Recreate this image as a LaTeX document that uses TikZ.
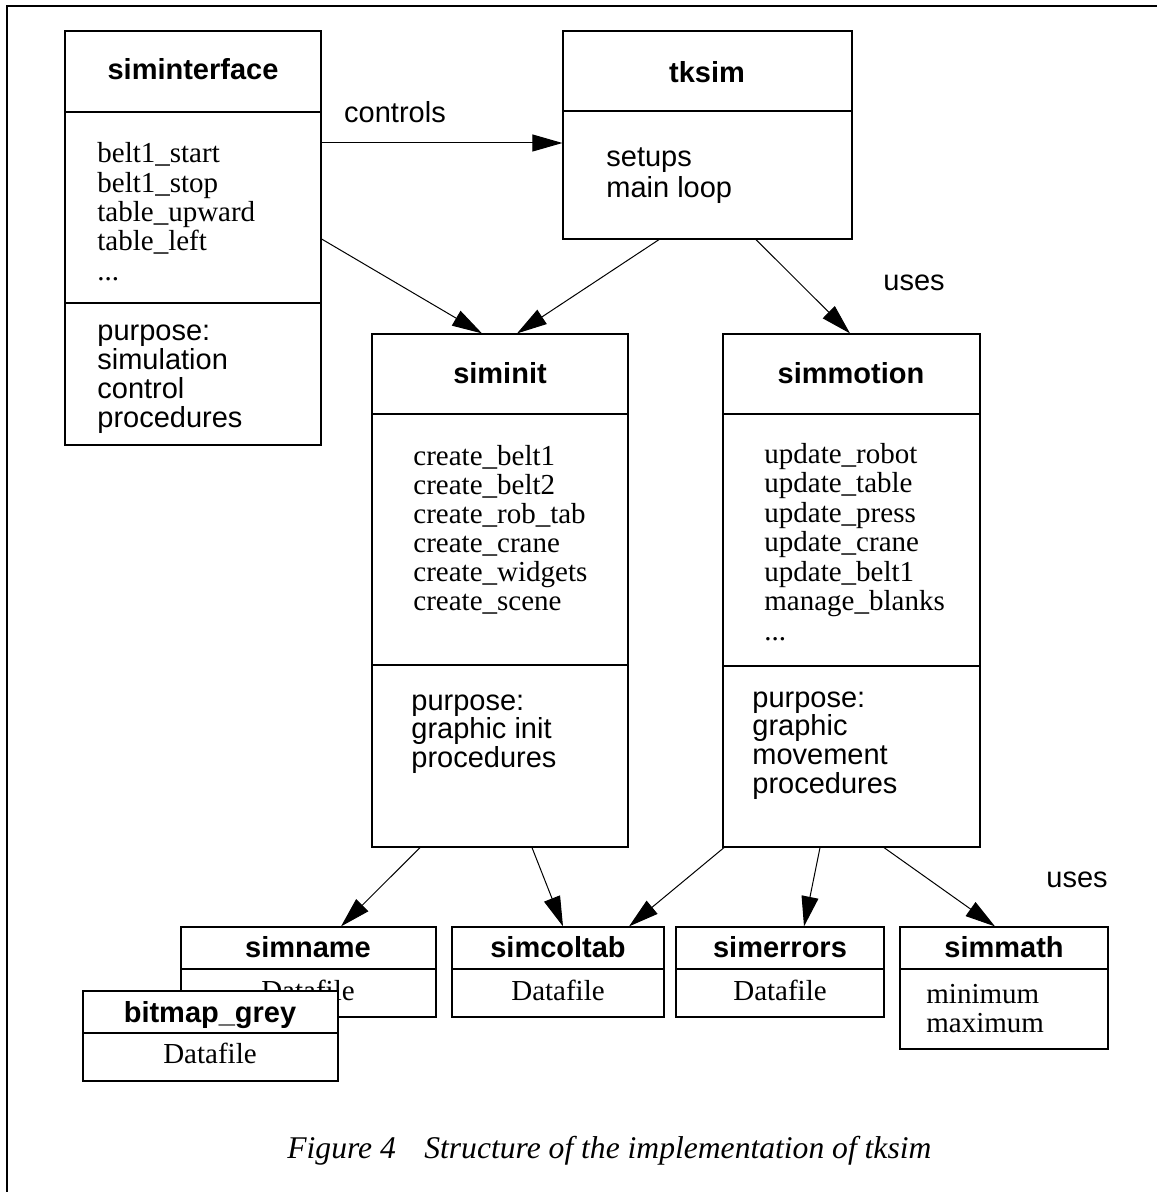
\documentclass[tikz,border=0pt]{standalone}
\usepackage{fontspec}
\setmainfont{Liberation Serif}
\setsansfont{Liberation Sans}
\usetikzlibrary{arrows.meta, calc, fit, positioning}

\newcommand{\moreops}{...}

\tikzset{
  box/.style={draw, line width=0.6pt, fill=white, inner sep=0pt},
  rule/.style={line width=0.6pt},
  title/.style={font=\sffamily\bfseries\fontsize{14.5}{15}\selectfont, anchor=base, inner sep=0pt},
  sans/.style={font=\sffamily\fontsize{14.5}{15}\selectfont, anchor=base west, inner sep=0pt},
  serif/.style={font=\rmfamily\fontsize{14.5}{15}\selectfont, anchor=base west, inner sep=0pt},
  link/.style={-{Triangle[length=15pt, width=8.5pt]}, line width=0.5pt},
}

\begin{document}
\begin{tikzpicture}[x=0.5pt, y=-0.5pt]
\useasboundingbox (0,0) rectangle (1157,1192);
\draw[rule] (7,1192) -- (7,6) -- (1157,6);

% siminterface
\node[box, fit={(65,31) (321,445)}] (siminterface) {};
\draw[rule] (siminterface.west |- 0,112) -- (siminterface.east |- 0,112);
\draw[rule] (siminterface.west |- 0,303) -- (siminterface.east |- 0,303);
\node[title] (siminterface-title) at (193,80) {siminterface};
\foreach \txt [count=\i] in {belt1\_start, belt1\_stop, table\_upward, table\_left, \moreops}
  \node[serif] (siminterface-op\i) at (97,{163+29.3*(\i-1)}) {\txt};
\foreach \txt [count=\i] in {purpose:, simulation, control, procedures}
  \node[sans] (siminterface-aim\i) at (97,{340+29.3*(\i-1)}) {\txt};

% tksim
\node[box, fit={(563,31) (852,239)}] (tksim) {};
\draw[rule] (tksim.west |- 0,111) -- (tksim.east |- 0,111);
\node[title] (tksim-title) at (707,83) {tksim};
\node[sans] (tksim-op1) at (606,167) {setups};
\node[sans] (tksim-op2) at (606,198) {main loop};

% siminit
\node[box, fit={(372,334) (628,847)}] (siminit) {};
\draw[rule] (siminit.west |- 0,414) -- (siminit.east |- 0,414);
\draw[rule] (siminit.west |- 0,665) -- (siminit.east |- 0,665);
\node[title] (siminit-title) at (500,383) {siminit};
\foreach \txt [count=\i] in {create\_belt1, create\_belt2, create\_rob\_tab, create\_crane, create\_widgets, create\_scene}
  \node[serif] (siminit-op\i) at (413,{465+29*(\i-1)}) {\txt};
\foreach \txt [count=\i] in {purpose:, graphic init, procedures}
  \node[sans] (siminit-aim\i) at (411,{710+28.7*(\i-1)}) {\txt};

% simmotion
\node[box, fit={(723,334) (980,847)}] (simmotion) {};
\draw[rule] (simmotion.west |- 0,414) -- (simmotion.east |- 0,414);
\draw[rule] (simmotion.west |- 0,666) -- (simmotion.east |- 0,666);
\node[title] (simmotion-title) at (851,383) {simmotion};
\foreach \txt [count=\i] in {update\_robot, update\_table, update\_press, update\_crane, update\_belt1, manage\_blanks, \moreops}
  \node[serif] (simmotion-op\i) at (764,{463+29.5*(\i-1)}) {\txt};
\foreach \txt [count=\i] in {purpose:, graphic, movement, procedures}
  \node[sans] (simmotion-aim\i) at (752,{707+28.7*(\i-1)}) {\txt};

% data files
\node[box, fit={(181,927) (436,1017)}] (simname) {};
\draw[rule] (simname.west |- 0,969) -- (simname.east |- 0,969);
\node[title] (simname-title) at (308,957) {simname};
\node[serif, anchor=base] (simname-kind) at (308,1000) {Datafile};

\node[box, fit={(83,991) (338,1081)}] (bitmap) {};
\draw[rule] (bitmap.west |- 0,1033) -- (bitmap.east |- 0,1033);
\node[title] (bitmap-title) at (210,1022) {bitmap\_grey};
\node[serif, anchor=base] (bitmap-kind) at (210,1063) {Datafile};

\node[box, fit={(452,927) (664,1017)}] (simcoltab) {};
\draw[rule] (simcoltab.west |- 0,969) -- (simcoltab.east |- 0,969);
\node[title] (simcoltab-title) at (558,957) {simcoltab};
\node[serif, anchor=base] (simcoltab-kind) at (558,1000) {Datafile};

\node[box, fit={(676,927) (884,1017)}] (simerrors) {};
\draw[rule] (simerrors.west |- 0,969) -- (simerrors.east |- 0,969);
\node[title] (simerrors-title) at (780,957) {simerrors};
\node[serif, anchor=base] (simerrors-kind) at (780,1000) {Datafile};

\node[box, fit={(900,927) (1108,1049)}] (simmath) {};
\draw[rule] (simmath.west |- 0,969) -- (simmath.east |- 0,969);
\node[title] (simmath-title) at (1004,957) {simmath};
\node[serif] (simmath-op1) at (926,1003) {minimum};
\node[serif] (simmath-op2) at (926,1032) {maximum};

% connectors
\draw[link] (siminterface.east |- 0,143) -- (tksim.west |- 0,143);
\node[sans, anchor=center] (controls) at (395,112) {controls};
\draw[link] (siminterface.east |- 0,239) -- (siminit.north -| 482,0);
\draw[link] (tksim.south -| 659,0) -- (siminit.north -| 517,0);
\draw[link] (tksim.south -| 756,0) -- (simmotion.north -| 850,0);
\node[sans, anchor=center] (uses-top) at (914,283) {uses};

\draw[link] (siminit.south -| 420,0) -- (simname.north -| 341,0);
\draw[link] (siminit.south -| 532,0) -- (simcoltab.north -| 563,0);
\draw[link] (simmotion.south -| 724,0) -- (simcoltab.north -| 629,0);
\draw[link] (simmotion.south -| 820,0) -- (simerrors.north -| 804,0);
\draw[link] (simmotion.south -| 884,0) -- (simmath.north -| 995,0);
\node[sans, anchor=center] (uses-low) at (1077,880) {uses};

\node[font=\rmfamily\itshape\fontsize{15.8}{16}\selectfont, anchor=base west, inner sep=0pt] (caption) at (287,1158) {Figure 4\hspace{0.9em}Structure of the implementation of tksim};
\end{tikzpicture}
\end{document}
